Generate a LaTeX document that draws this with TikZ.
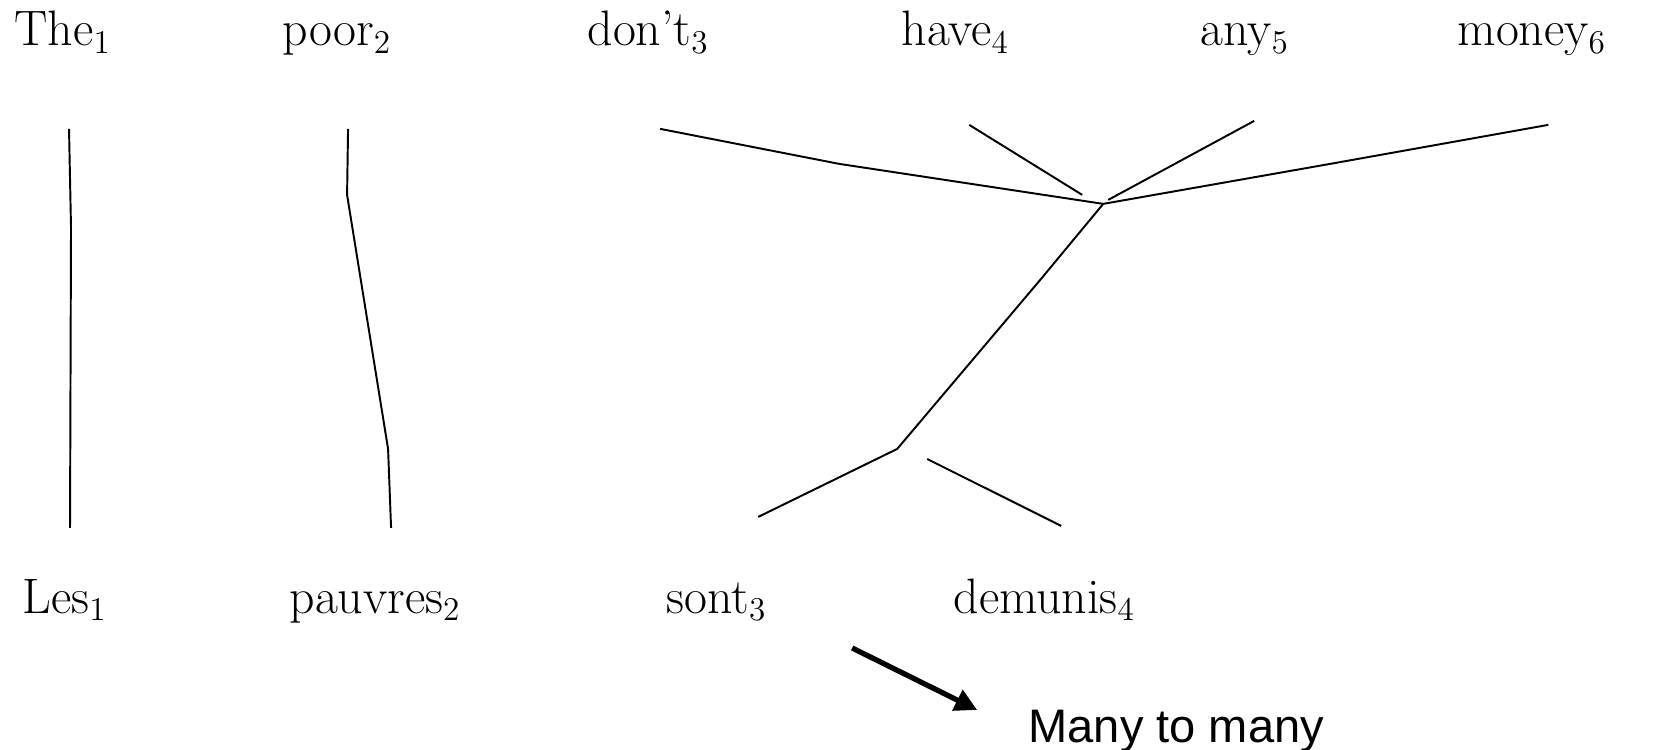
\documentclass[tikz,border=0pt]{standalone}
\usepackage{fontspec}
\newfontfamily\notefont{Liberation Sans}
\usetikzlibrary{arrows.meta}
\begin{document}
\begin{tikzpicture}[scale=2.54,
  word/.style={anchor=base west,inner sep=0pt,font=\fontsize{18}{22}\selectfont},
  note/.style={anchor=base west,inner sep=0pt,font=\notefont\fontsize{17}{20}\selectfont}]%
\ifx\alnlw\undefined\newdimen\alnlw\fi
\global\def\alndraw{\draw[line width=\alnlw]}
\global\def\alnstop{;}
\alnlw=0.7bp
\useasboundingbox (0,0) rectangle (8.275,3.745)\alnstop
% English words
\draw (0.07,3.515) node[word] (the) {The$_1$};
\draw (1.41,3.515) node[word] (poor) {poor$_2$};
\draw (2.935,3.515) node[word] (dont) {don’t$_3$};
\draw (4.505,3.515) node[word] (have) {have$_4$};
\draw (6.0,3.515) node[word] (any) {any$_5$};
\draw (7.285,3.515) node[word] (money) {money$_6$};
% French words
\draw (0.11,0.68) node[word] (les) {Les$_1$};
\draw (1.445,0.68) node[word] (pauvres) {pauvres$_2$};
\draw (3.33,0.68) node[word] (sont) {sont$_3$};
\draw (4.765,0.68) node[word] (demunis) {demunis$_4$};
% link points
\coordinate (theT) at (0.345,3.1);
\coordinate (theM) at (0.355,2.605);
\coordinate (lesB) at (0.35,1.105);
\coordinate (poorT) at (1.74,3.1);
\coordinate (poorM) at (1.735,2.77);
\coordinate (pauvM) at (1.94,1.5);
\coordinate (pauvB) at (1.955,1.105);
\coordinate (dontT) at (3.3,3.1);
\coordinate (dontM) at (4.195,2.925);
\coordinate (hub) at (5.515,2.725);
\coordinate (haveT) at (4.845,3.12);
\coordinate (haveB) at (5.41,2.77);
\coordinate (anyT) at (6.27,3.14);
\coordinate (anyB) at (5.54,2.745);
\coordinate (moneyT) at (7.74,3.12);
\coordinate (moneyM) at (6.65,2.925);
\coordinate (stemM) at (5.2,2.345);
\coordinate (knee) at (4.485,1.5);
\coordinate (sontB) at (3.79,1.16);
\coordinate (demT) at (4.635,1.45);
\coordinate (demB) at (5.305,1.115);
\alndraw (theT)
 --(theM)
 --(lesB)\alnstop
\alndraw (poorT)
 --(poorM)
 --(pauvM)
 --(pauvB)\alnstop
\alndraw (dontT)
 --(dontM)
 --(hub)\alnstop
\alndraw (haveT)
 --(haveB)\alnstop
\alndraw (anyT)
 --(anyB)\alnstop
\alndraw (moneyT)
 --(moneyM)
 --(hub)\alnstop
\alndraw (hub)
 --(stemM)
 --(knee)
 --(sontB)\alnstop
\alndraw (demT)
 --(demB)\alnstop
% many to many
\coordinate (arrT) at (4.26,0.505);
\coordinate (arrH) at (4.885,0.195);
\draw[line width=1.9bp,-{Triangle[length=8pt,width=8pt]}] (arrT) -- (arrH)\alnstop
\draw (5.14,0.035) node[note] (many) {Many to many};
\end{tikzpicture}
\end{document}
